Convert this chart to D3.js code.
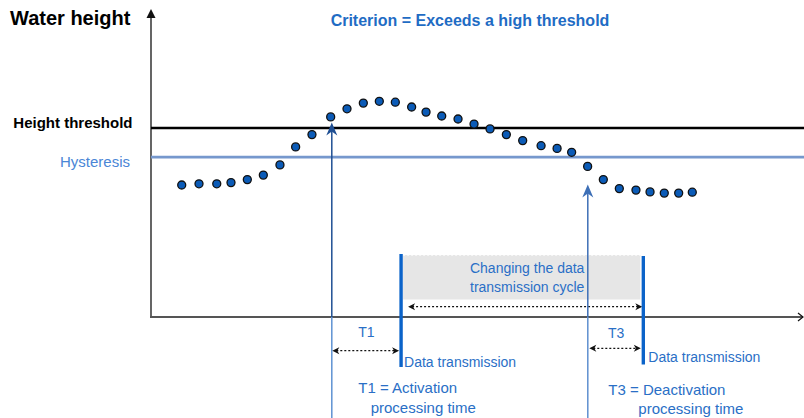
<!DOCTYPE html>
<html>
<head>
<meta charset="utf-8">
<script src="https://cdn.jsdelivr.net/npm/d3@7"></script>
<style>
  html, body { margin: 0; padding: 0; background: #fff; }
  svg { display: block; font-family: "Liberation Sans", Arial, sans-serif; }
</style>
</head>
<body>
<svg id="chart" width="804" height="418"></svg>
<script>
// Sample times (s) and measured water heights (cm)
const times = [1.92, 3.0, 4.11, 5.0, 6.02, 7.02, 8.06, 9.04, 10.06, 11.23, 12.25,
  13.27, 14.27, 15.27, 16.29, 17.19, 18.17, 19.19, 20.19, 21.19, 22.21, 23.23,
  24.38, 25.38, 26.29, 27.29, 28.27, 29.27, 30.31, 31.19, 32.08, 32.98, 33.83];
const heights = [44.0, 44.4, 44.4, 44.8, 45.8, 47.3, 50.7, 56.7, 60.8, 66.7, 69.4,
  71.3, 71.9, 71.6, 70.0, 68.3, 67.0, 66.0, 64.3, 62.7, 60.8, 58.8,
  57.1, 56.2, 54.9, 50.2, 45.8, 42.8, 42.3, 41.7, 41.3, 41.3, 41.6];

// Levels drawn across the plot
const thresholdHeight = 63;
const hysteresisHeight = 53.3;

// Event instants on the time axis
const activationTime = 11.3;     // height crosses the threshold
const deactivationTime = 27.3;   // height drops below the hysteresis level
const transmissionTimes = [15.63, 30.77];

const svg = d3.select("#chart");
const x = d3.scaleLinear().domain([0, 40.75]).range([151, 803]);
const y = d3.scaleLinear().domain([0, 100]).range([317, 17]);
const x0 = x(0), y0 = y(0), xEnd = x.range()[1];

const blue = "#1f6cc4";
const textBlue = "#2a6fc6";

// ---- axes ----
svg.append("line").attr("x1", x0).attr("x2", x0).attr("y1", 14).attr("y2", y0)
  .attr("stroke", "#555").attr("stroke-width", 1.8);
svg.append("path").attr("d", `M${x0},9 L${x0 - 4.5},18 L${x0 + 4.5},18 Z`).attr("fill", "#111");
svg.append("line").attr("x1", x0 - 1).attr("x2", xEnd).attr("y1", y0).attr("y2", y0)
  .attr("stroke", "#555").attr("stroke-width", 1.8);
svg.append("path").attr("d", `M${xEnd - 5},${y0 - 4} L${xEnd},${y0} L${xEnd - 5},${y0 + 4}`)
  .attr("fill", "none").attr("stroke", "#111").attr("stroke-width", 1.2);

// ---- threshold and hysteresis levels ----
svg.append("line").attr("x1", x0).attr("x2", 804)
  .attr("y1", y(thresholdHeight)).attr("y2", y(thresholdHeight))
  .attr("stroke", "#000").attr("stroke-width", 2.6);
svg.append("line").attr("x1", x0).attr("x2", 804)
  .attr("y1", y(hysteresisHeight)).attr("y2", y(hysteresisHeight))
  .attr("stroke", "#7698cd").attr("stroke-width", 2.8);

// ---- titles and level labels ----
svg.append("text").attr("x", 10).attr("y", 25).attr("font-size", 20).attr("font-weight", "bold")
  .attr("fill", "#000").text("Water height");
svg.append("text").attr("x", 470).attr("y", 26).attr("text-anchor", "middle")
  .attr("font-size", 16).attr("font-weight", "bold").attr("fill", blue)
  .text("Criterion = Exceeds a high threshold");
svg.append("text").attr("x", 132.5).attr("y", y(thresholdHeight))
  .attr("text-anchor", "end").attr("font-size", 15).attr("font-weight", "bold")
  .attr("fill", "#000").text("Height threshold");
svg.append("text").attr("x", 130).attr("y", y(hysteresisHeight) + 10)
  .attr("text-anchor", "end").attr("font-size", 15).attr("fill", "#4a86d6").text("Hysteresis");

// ---- transmission-cycle box ----
const tA = x(transmissionTimes[0]), tB = x(transmissionTimes[1]);
svg.append("rect").attr("x", tA + 2).attr("y", 255).attr("width", tB - tA - 5).attr("height", 44.5)
  .attr("fill", "#e6e6e6");
svg.append("line").attr("x1", tA + 2).attr("x2", tB - 3).attr("y1", 255.5).attr("y2", 255.5)
  .attr("stroke", "#f6f6f6").attr("stroke-width", 1).attr("stroke-dasharray", "2,2");
const boxText = svg.append("text").attr("text-anchor", "middle").attr("font-size", 14).attr("fill", textBlue);
boxText.append("tspan").attr("x", (tA + tB) / 2 + 5).attr("y", 273).text("Changing the data");
boxText.append("tspan").attr("x", (tA + tB) / 2 + 5).attr("y", 292).text("transmission cycle");

// dotted double-headed arrow helper
function dottedArrow(xa, xb, yy) {
  svg.append("line").attr("x1", xa + 4).attr("x2", xb - 4).attr("y1", yy).attr("y2", yy)
    .attr("stroke", "#111").attr("stroke-width", 1.3).attr("stroke-dasharray", "2,2");
  svg.append("path").attr("d", `M${xa},${yy} L${xa + 7},${yy - 3.5} L${xa + 5},${yy} L${xa + 7},${yy + 3.5} Z`)
    .attr("fill", "#111");
  svg.append("path").attr("d", `M${xb},${yy} L${xb - 7},${yy - 3.5} L${xb - 5},${yy} L${xb - 7},${yy + 3.5} Z`)
    .attr("fill", "#111");
}
dottedArrow(tA + 7, tB - 1, 306.7);

// ---- event arrows (activation / deactivation) ----
function eventArrow(t, tipY, upColor, lowColor) {
  const px = x(t);
  svg.append("line").attr("x1", px).attr("x2", px).attr("y1", tipY + 8).attr("y2", y0)
    .attr("stroke", upColor).attr("stroke-width", 1.5);
  svg.append("line").attr("x1", px).attr("x2", px).attr("y1", y0).attr("y2", 418)
    .attr("stroke", lowColor).attr("stroke-width", 1.5);
  svg.append("path").attr("d", `M${px},${tipY} L${px + 5.5},${tipY + 13} L${px},${tipY + 9} L${px - 5.5},${tipY + 13} Z`)
    .attr("fill", upColor);
}
eventArrow(activationTime, 122.5, "#1f4f93", "#5f92d2");
eventArrow(deactivationTime, 184.5, "#3d6fb6", "#5f8fcf");

// ---- data transmission bars ----
svg.append("line").attr("x1", tA).attr("x2", tA).attr("y1", 254).attr("y2", 367)
  .attr("stroke", "#0b63c9").attr("stroke-width", 3.4);
svg.append("line").attr("x1", tB).attr("x2", tB).attr("y1", 256).attr("y2", 364.5)
  .attr("stroke", "#0b63c9").attr("stroke-width", 3.4);
svg.append("text").attr("x", tA + 3).attr("y", 366.5).attr("font-size", 14).attr("fill", textBlue)
  .text("Data transmission");
svg.append("text").attr("x", tB + 5).attr("y", 361.5).attr("font-size", 14).attr("fill", textBlue)
  .text("Data transmission");

// ---- processing time spans ----
const aX = x(activationTime), dX = x(deactivationTime);
dottedArrow(aX + 0.5, tA - 2, 350.7);
dottedArrow(dX + 1.5, tB - 2.5, 348.3);
svg.append("text").attr("x", (aX + tA) / 2).attr("y", 337).attr("text-anchor", "middle")
  .attr("font-size", 14).attr("fill", textBlue).text("T1");
svg.append("text").attr("x", (dX + tB) / 2 + 0.5).attr("y", 338).attr("text-anchor", "middle")
  .attr("font-size", 14).attr("fill", textBlue).text("T3");

const cap1 = svg.append("text").attr("font-size", 15).attr("fill", textBlue);
cap1.append("tspan").attr("x", 358.3).attr("y", 393).text("T1 = Activation");
cap1.append("tspan").attr("x", 370.7).attr("y", 413).text("processing time");
const cap3 = svg.append("text").attr("font-size", 15).attr("fill", textBlue);
cap3.append("tspan").attr("x", 608.3).attr("y", 395).text("T3 = Deactivation");
cap3.append("tspan").attr("x", 638.3).attr("y", 414).text("processing time");

// ---- water height samples ----
svg.append("g").selectAll("circle")
  .data(times.map((t, i) => ({ t, h: heights[i] })))
  .join("circle")
  .attr("cx", d => x(d.t))
  .attr("cy", d => y(d.h))
  .attr("r", 4)
  .attr("fill", "#0b5bb7")
  .attr("stroke", "#111")
  .attr("stroke-width", 1.3);
</script>
</body>
</html>
